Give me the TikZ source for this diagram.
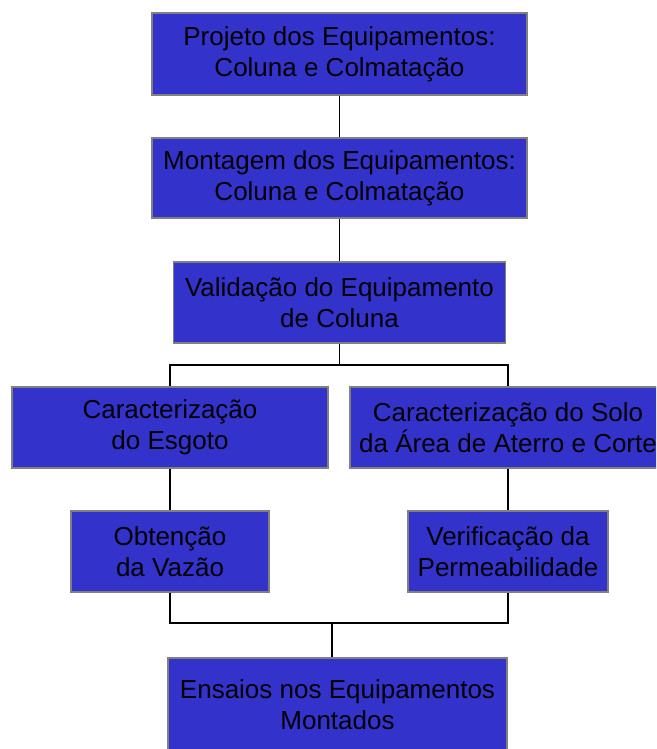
\documentclass[tikz,border=0pt]{standalone}
\usepackage{fontspec}
\setmainfont{Liberation Sans}
\usepackage{tikz}
\definecolor{azulcaixa}{RGB}{51,51,204}
\definecolor{cinzaborda}{RGB}{128,128,128}
\tikzset{caixa/.style={draw=cinzaborda, line width=1.5pt, fill=azulcaixa, align=center, inner sep=0pt, font=\fontsize{26}{31}\selectfont}, liga/.style={line width=1.3pt, black}}

\begin{document}
\begin{tikzpicture}[x=1pt, y=1pt]
	\useasboundingbox (0,0) rectangle (656,749);
	\clip (0,0) rectangle (656,749);
	
	\node[caixa, minimum width=375pt, minimum height=82pt] (projeto) at (339.5,695) {Projeto dos Equipamentos:\\Coluna e Colmatação};
	\node[caixa, minimum width=375pt, minimum height=80pt] (montagem) at (339.5,571) {Montagem dos Equipamentos:\\Coluna e Colmatação};
	\node[caixa, minimum width=332pt, minimum height=81pt] (validacao) at (339.5,446.5) {Validação do Equipamento\\de Coluna};
	\node[caixa, minimum width=316pt, minimum height=81pt] (esgoto) at (170,321.5) {Caracterização\\do Esgoto};
	\node[caixa, minimum width=316pt, minimum height=81pt] (solo) at (508,321.5) {Caracterização do Solo\\da Área de Aterro e Corte};
	\node[caixa, minimum width=198pt, minimum height=81pt] (vazao) at (170,197.5) {Obtenção\\da Vazão};
	\node[caixa, minimum width=200pt, minimum height=81pt] (permeab) at (508,197.5) {Verificação da\\Permeabilidade};
	\node[caixa, minimum width=339pt, minimum height=94pt] (ensaios) at (337.5,44) {Ensaios nos Equipamentos\\Montados};
	
	\coordinate (barrasup) at (339.5,384);
	\coordinate (barrainf) at (332,126);
	
	\draw[liga] (projeto.south) -- (montagem.north);
	\draw[liga] (montagem.south) -- (validacao.north);
	\draw[liga] (validacao.south) -- (barrasup);
	\draw[liga] (esgoto.north) |- (barrasup) -| (solo.north);
	\draw[liga] (esgoto.south) -- (vazao.north);
	\draw[liga] (solo.south) -- (permeab.north);
	\draw[liga] (vazao.south) |- (barrainf) -| (permeab.south);
	\draw[liga] (barrainf) -- (barrainf |- ensaios.north);
	 
\end{tikzpicture}
\end{document}
